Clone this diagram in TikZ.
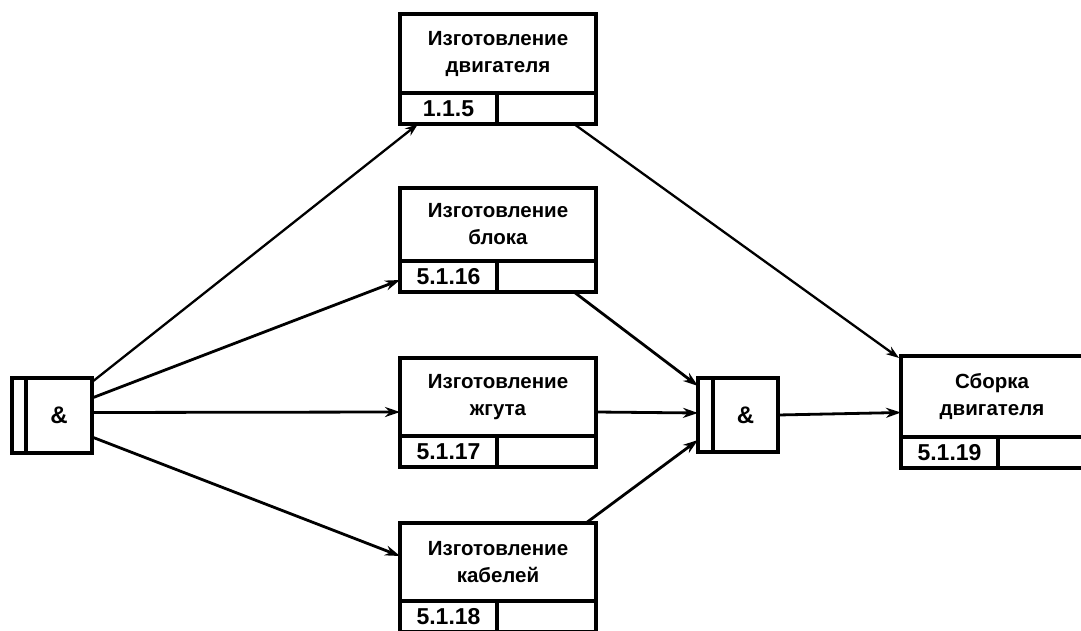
\documentclass[tikz,border=0pt]{standalone}
\usepackage{fontspec}
\setmainfont{Liberation Sans}
\usetikzlibrary{arrows.meta,calc}
\tikzset{
  boxline/.style={draw=black, line width=3.5pt, outer sep=0pt, inner sep=0pt},
  tasktext/.style={boxline, anchor=north west, minimum width=196pt, align=center,
    font=\bfseries\fontsize{20.5}{27}\selectfont},
  numcell/.style={boxline, anchor=north west, minimum width=97pt, minimum height=31pt,
    font=\bfseries\fontsize{23}{25}\selectfont},
  emptycell/.style={boxline, anchor=north west, minimum width=99pt, minimum height=31pt},
  jmain/.style={boxline, anchor=north west, minimum width=66pt, minimum height=75pt,
    font=\bfseries\fontsize{24}{26}\selectfont},
  jbar/.style={boxline, anchor=north east, minimum width=14pt, minimum height=75pt},
  conn/.style={draw=black, line width=2.8pt, -{Stealth[length=15pt,width=10pt]}},
  thinconn/.style={draw=black, line width=2.3pt, -{Stealth[length=13pt,width=9pt]}},
}
\begin{document}
\begin{tikzpicture}[x=1pt,y=-1pt]
\useasboundingbox (0,0) rectangle (1081,631);
% tasks
\node[tasktext, minimum height=79pt] (t1) at (400,14) {Изготовление\\двигателя};
\node[numcell] (t1n) at (t1.south west) {1.1.5};
\node[emptycell] (t1e) at (t1n.north east) {};

\node[tasktext, minimum height=73pt] (t2) at (400,188) {Изготовление\\блока};
\node[numcell] (t2n) at (t2.south west) {5.1.16};
\node[emptycell] (t2e) at (t2n.north east) {};

\node[tasktext, minimum height=78pt] (t3) at (400,358) {Изготовление\\жгута};
\node[numcell] (t3n) at (t3.south west) {5.1.17};
\node[emptycell] (t3e) at (t3n.north east) {};

\node[tasktext, minimum height=78pt] (t4) at (400,523) {Изготовление\\кабелей};
\node[numcell] (t4n) at (t4.south west) {5.1.18};
\node[emptycell] (t4e) at (t4n.north east) {};

\node[tasktext, minimum width=182pt, minimum height=81pt] (t5) at (901,356) {Сборка\\двигателя};
\node[numcell] (t5n) at (t5.south west) {5.1.19};
\node[emptycell, minimum width=85pt] (t5e) at (t5n.north east) {};

% junctions
\node[jmain] (j1) at (26,378) {\&};
\node[jbar] (j1b) at (j1.north west) {};
\node[jmain, minimum width=65pt, minimum height=74pt] (j2) at (713,378) {\&};
\node[jbar, minimum width=15pt, minimum height=74pt] (j2b) at (j2.north west) {};

% connectors from j1
\draw[thinconn] ($(j1.north east)+(0,4)$) -- ($(t1n.south west)+(18,0)$);
\draw[conn] ($(j1.north east)+(0,20)$) -- ($(t2n.north west)+(0,19)$);
\draw[conn] ($(j1.east)+(0,-3)$) -- ($(t3.west)+(0,15)$);
\draw[conn] ($(j1.south east)+(0,-16)$) -- ($(t4.west)+(0,-6)$);
% to j2
\draw[conn] ($(t2e.south east)+(-22,0)$) -- ($(j2b.north west)+(0,8)$);
\draw[conn] ($(t3.east)+(0,15)$) -- ($(j2b.west)+(0,-2)$);
\draw[conn] ($(t4.north east)+(-10,0)$) -- ($(j2b.south west)+(0,-12)$);
% to assembly
\draw[conn] (j2.east) -- ($(t5.west)+(0,16)$);
\draw[thinconn] ($(t1e.south east)+(-22,0)$) -- ($(t5.north west)+(-2,2)$);
\end{tikzpicture}
\end{document}
